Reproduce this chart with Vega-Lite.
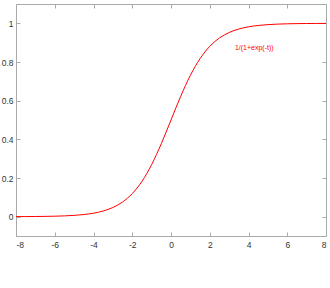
{
  "$schema": "https://vega.github.io/schema/vega-lite/v6.json",
  "width": 310,
  "height": 232,
  "autosize": "none",
  "padding": {"left": 16, "top": 4, "right": 4, "bottom": 52},
  "background": "white",
  "config": {
    "view": {"stroke": null},
    "axis": {
      "grid": false,
      "domainColor": "#aaaaaa",
      "tickColor": "#aaaaaa",
      "tickSize": -4,
      "labelColor": "#333333",
      "labelFont": "Liberation Sans",
      "labelFontSize": 8.5,
      "labelExpr": "datum.value + ''",
      "title": null
    }
  },
  "data": {
    "values": [
      {"t": -8, "y": 0.000335}, {"t": -7.5, "y": 0.000553}, {"t": -7, "y": 0.000911},
      {"t": -6.5, "y": 0.001501}, {"t": -6, "y": 0.002473}, {"t": -5.5, "y": 0.00407},
      {"t": -5, "y": 0.006693}, {"t": -4.5, "y": 0.010987}, {"t": -4, "y": 0.017986},
      {"t": -3.5, "y": 0.029312}, {"t": -3, "y": 0.047426}, {"t": -2.5, "y": 0.075858},
      {"t": -2, "y": 0.119203}, {"t": -1.5, "y": 0.182426}, {"t": -1, "y": 0.268941},
      {"t": -0.5, "y": 0.377541}, {"t": 0, "y": 0.5}, {"t": 0.5, "y": 0.622459},
      {"t": 1, "y": 0.731059}, {"t": 1.5, "y": 0.817574}, {"t": 2, "y": 0.880797},
      {"t": 2.5, "y": 0.924142}, {"t": 3, "y": 0.952574}, {"t": 3.5, "y": 0.970688},
      {"t": 4, "y": 0.982014}, {"t": 4.5, "y": 0.989013}, {"t": 5, "y": 0.993307},
      {"t": 5.5, "y": 0.99593}, {"t": 6, "y": 0.997527}, {"t": 6.5, "y": 0.998499},
      {"t": 7, "y": 0.999089}, {"t": 7.5, "y": 0.999447}, {"t": 8, "y": 0.999665}
    ]
  },
  "layer": [
    {
      "mark": {"type": "line", "color": "#ff0000", "strokeWidth": 1, "interpolate": "monotone"},
      "encoding": {
        "x": {"field": "t", "type": "quantitative", "scale": {"domain": [-8, 8], "nice": false},
              "axis": {"orient": "bottom", "values": [-8, -6, -4, -2, 0, 2, 4, 6, 8], "labelPadding": 8}},
        "y": {"field": "y", "type": "quantitative", "scale": {"domain": [-0.1, 1.1], "nice": false, "zero": false},
              "axis": {"orient": "left", "values": [0, 0.2, 0.4, 0.6, 0.8, 1], "labelPadding": 7}}
      }
    },
    {
      "data": {"values": [{"t": 3.3, "y": 0.874, "label": "1/(1+exp(-t))"}]},
      "mark": {"type": "text", "color": "#ff0000", "font": "Liberation Sans", "fontSize": 7, "align": "left", "baseline": "middle"},
      "encoding": {
        "x": {"field": "t", "type": "quantitative",
              "axis": {"orient": "top", "values": [-8, -6, -4, -2, 0, 2, 4, 6, 8], "labels": false}},
        "y": {"field": "y", "type": "quantitative",
              "axis": {"orient": "right", "values": [0, 0.2, 0.4, 0.6, 0.8, 1], "labels": false}},
        "text": {"field": "label"}
      }
    }
  ],
  "resolve": {"axis": {"x": "independent", "y": "independent"}}
}
